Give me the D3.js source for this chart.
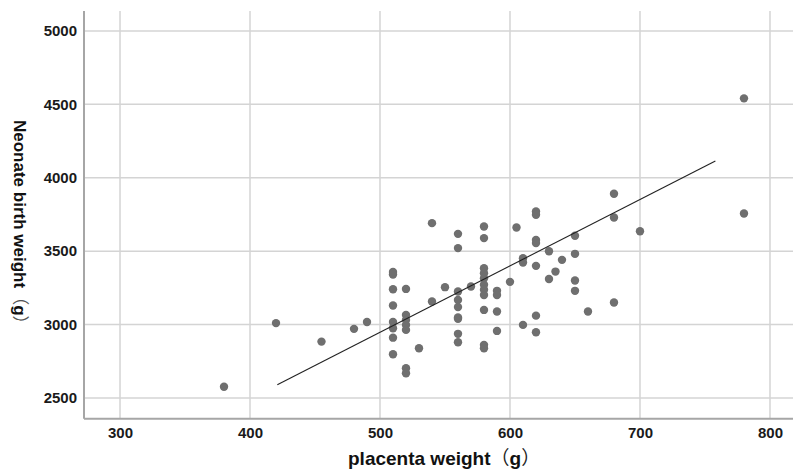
<!DOCTYPE html>
<html>
<head>
<meta charset="utf-8">
<script src="https://cdn.jsdelivr.net/npm/d3@7"></script>
<style>
  body { margin: 0; background: #fff; }
  svg { display: block; }
</style>
</head>
<body>
<div id="chart"></div>
<script>
// placenta weight (g) of each case
var placenta = [
  380, 420, 455, 480, 490,
  510, 510, 510, 510, 510, 510, 510, 510,
  520, 520, 520, 520, 520, 520, 520,
  530, 540, 540, 550,
  560, 560, 560, 560, 560, 560, 560, 560, 560,
  570,
  580, 580, 580, 580, 580, 580, 580, 580, 580, 580, 580,
  590, 590, 590, 590,
  600, 605, 610, 610, 610,
  620, 620, 620, 620, 620, 620, 620,
  630, 630, 635, 640,
  650, 650, 650, 650,
  660, 680, 680, 680, 700, 780, 780
];
// neonate birth weight (g), same order
var birthWeight = [
  2577, 3010, 2884, 2971, 3018,
  3359, 3341, 3241, 3130, 3018, 2975, 2911, 2798,
  3243, 3066, 3032, 2998, 2964, 2703, 2669,
  2839, 3691, 3157, 3255,
  3618, 3521, 3225, 3168, 3119, 3048, 3039, 2937, 2880,
  3259,
  3668, 3589, 3384, 3350, 3316, 3271, 3237, 3202, 3100, 2862, 2839,
  3230, 3202, 3089, 2957,
  3291, 3661, 3452, 3423, 2998,
  3770, 3748, 3577, 3555, 3400, 3061, 2948,
  3500, 3311, 3361, 3441,
  3605, 3482, 3300, 3230,
  3089, 3891, 3729, 3150, 3636, 4541, 3757
];
// fit line ends
var fitX = [421, 758];
var fitY = [2591, 4114];

var xTicks = [300, 400, 500, 600, 700, 800];
var yTicks = [2500, 3000, 3500, 4000, 4500, 5000];

var W = 793, H = 473;
var plotLeft = 84, plotTop = 11, plotBottom = 418.7, plotRight = 816;

var svg = d3.select("#chart").append("svg")
  .attr("width", W)
  .attr("height", H);

var x = d3.scaleLinear().domain([272.3, 835.4]).range([plotLeft, plotRight]);
var y = d3.scaleLinear().domain([2359, 5136]).range([plotBottom, plotTop]);

// grid
svg.append("g")
  .selectAll("line")
  .data(xTicks)
  .enter().append("line")
  .attr("x1", function(d) { return x(d); })
  .attr("x2", function(d) { return x(d); })
  .attr("y1", plotTop)
  .attr("y2", plotBottom)
  .attr("stroke", "#d4d4d4")
  .attr("stroke-width", 1.5);

svg.append("g")
  .selectAll("line")
  .data(yTicks)
  .enter().append("line")
  .attr("x1", plotLeft)
  .attr("x2", W)
  .attr("y1", function(d) { return y(d); })
  .attr("y2", function(d) { return y(d); })
  .attr("stroke", "#d4d4d4")
  .attr("stroke-width", 1.5);

// axes
var xAxis = svg.append("g")
  .attr("transform", "translate(0," + plotBottom + ")")
  .call(d3.axisBottom(x).tickValues(xTicks).tickFormat(d3.format("d")).tickSize(0).tickPadding(9));
var yAxis = svg.append("g")
  .attr("transform", "translate(" + plotLeft + ",0)")
  .call(d3.axisLeft(y).tickValues(yTicks).tickFormat(d3.format("d")).tickSize(0).tickPadding(7));

[xAxis, yAxis].forEach(function(a) {
  a.select(".domain").attr("stroke", "#a6a6a6").attr("stroke-width", 2);
  a.selectAll("text")
    .attr("fill", "#1a1a1a")
    .style("font-family", "'Liberation Sans', Arial, sans-serif")
    .style("font-size", "15px")
    .style("font-weight", "bold");
});
xAxis.select(".domain").attr("d", "M" + plotLeft + ",0H" + W);
yAxis.select(".domain").attr("d", "M0," + plotTop + "V" + plotBottom);

// points
var pts = placenta.map(function(p, i) { return {x: p, y: birthWeight[i]}; });
svg.append("g")
  .selectAll("circle")
  .data(pts)
  .enter().append("circle")
  .attr("cx", function(d) { return x(d.x); })
  .attr("cy", function(d) { return y(d.y); })
  .attr("r", 4.2)
  .attr("fill", "#6f6f6f");

// fit line
svg.append("line")
  .attr("x1", x(fitX[0]))
  .attr("y1", y(fitY[0]))
  .attr("x2", x(fitX[1]))
  .attr("y2", y(fitY[1]))
  .attr("stroke", "#222")
  .attr("stroke-width", 1.1);

// axis titles: bold name, thin full-width brackets round a bold g
function unitTitle(sel, name, parenColor) {
  sel.append("tspan").text(name);
  sel.append("tspan")
    .style("font-family", "'Noto Sans CJK SC', sans-serif")
    .style("font-weight", "normal")
    .attr("fill", parenColor)
    .text("（");
  sel.append("tspan").text("g");
  sel.append("tspan")
    .style("font-family", "'Noto Sans CJK SC', sans-serif")
    .style("font-weight", "normal")
    .attr("fill", parenColor)
    .text("）");
}

var xt = svg.append("text")
  .attr("x", 348)
  .attr("y", 465)
  .style("font-family", "'Liberation Sans', Arial, sans-serif")
  .style("font-size", "19px")
  .style("font-weight", "bold")
  .attr("fill", "#111");
unitTitle(xt, "placenta weight", "#222");

var yt = svg.append("text")
  .attr("transform", "translate(14,120) rotate(90)")
  .style("font-family", "'Liberation Sans', Arial, sans-serif")
  .style("font-size", "17px")
  .style("font-weight", "bold")
  .attr("fill", "#111");
unitTitle(yt, "Neonate birth weight", "#555");
</script>
</body>
</html>
